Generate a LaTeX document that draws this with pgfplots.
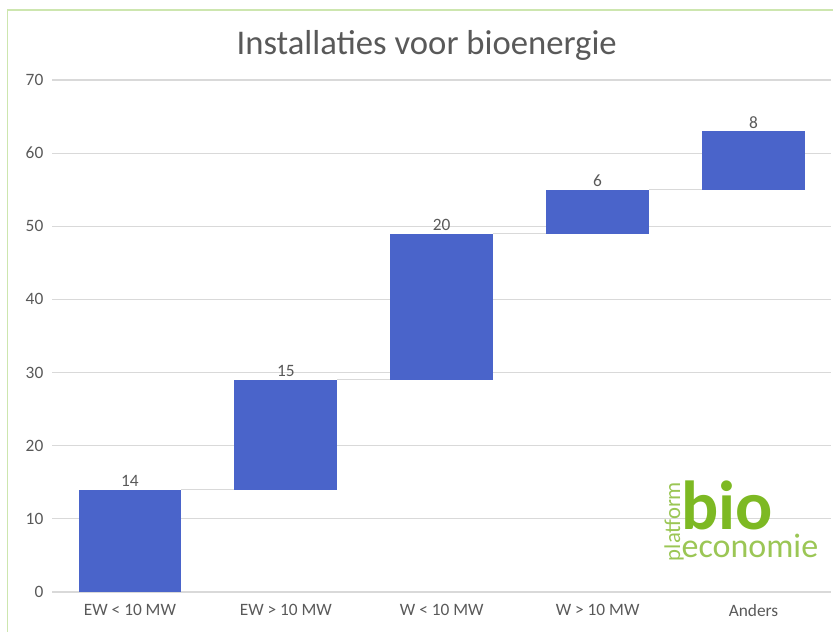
\documentclass[border=0pt]{standalone}
\usepackage{pgfplots}
\pgfplotsset{compat=1.18}
\usepackage{fontspec}
\setmainfont{Carlito}
\definecolor{barblue}{RGB}{74,100,202}
\definecolor{gridgray}{RGB}{217,217,217}
\definecolor{txtgray}{RGB}{89,89,89}
\definecolor{framegreen}{RGB}{205,230,175}
\definecolor{logogreen}{RGB}{125,185,35}
\definecolor{logolight}{RGB}{155,198,85}
\begin{document}
\begin{tikzpicture}
\path[use as bounding box] (0,0) rectangle (624.75pt,474pt);
\draw[framegreen,line width=1.2pt] (5.5pt,0) -- (5.5pt,466.5pt) -- (624.75pt,466.5pt);
\node[txtgray,font=\fontsize{26}{30}\selectfont] at (320pt,440pt) {Installaties voor bioenergie};
\begin{axis}[
  at={(39pt,30pt)}, anchor=south west,
  scale only axis, width=584.6pt, height=384pt,
  xmin=-0.5, xmax=4.5, ymin=0, ymax=70,
  ytick={0,10,...,70},
  xtick={0,1,2,3,4},
  xticklabels={EW < 10 MW, EW > 10 MW, W < 10 MW, W > 10 MW, Anders},
  axis line style={draw=none},
  major tick length=0pt,
  ymajorgrids, grid style={gridgray, line width=0.8pt},
  tick label style={txtgray, font=\fontsize{13}{15}\selectfont},
  /pgf/number format/assume math mode=true,
  yticklabel style={xshift=-3pt},
  xticklabel style={yshift=-6pt},
  clip=false,
]
% bars (base, top)
\addplot[fill=barblue, draw=none] coordinates {(-0.33,0) (0.33,0) (0.33,14) (-0.33,14)} -- cycle;
\addplot[fill=barblue, draw=none] coordinates {(0.67,14) (1.33,14) (1.33,29) (0.67,29)} -- cycle;
\addplot[fill=barblue, draw=none] coordinates {(1.67,29) (2.33,29) (2.33,49) (1.67,49)} -- cycle;
\addplot[fill=barblue, draw=none] coordinates {(2.67,49) (3.33,49) (3.33,55) (2.67,55)} -- cycle;
\addplot[fill=barblue, draw=none] coordinates {(3.67,55) (4.33,55) (4.33,63) (3.67,63)} -- cycle;
% connectors
\addplot[gridgray, line width=0.8pt] coordinates {(0.33,14) (0.67,14)};
\addplot[gridgray, line width=0.8pt] coordinates {(1.33,29) (1.67,29)};
\addplot[gridgray, line width=0.8pt] coordinates {(2.33,49) (2.67,49)};
\addplot[gridgray, line width=0.8pt] coordinates {(3.33,55) (3.67,55)};
% value labels
\addplot[only marks, mark=*, mark size=0pt, mark options={draw=none,fill=none},
  nodes near coords, point meta=explicit symbolic,
  nodes near coords style={anchor=south, inner sep=2pt, txtgray, font=\fontsize{13}{15}\selectfont}]
  coordinates {(0,14)[14] (1,29)[15] (2,49)[20] (3,55)[6] (4,63)[8]};
\end{axis}
% logo
\node[anchor=base west, inner sep=0pt, text=logogreen, font=\fontsize{52}{52}\selectfont\bfseries] at (511pt,77pt) {bio};
\node[anchor=base west, inner sep=0pt, text=logolight, font=\fontsize{25.5}{26}\selectfont] at (511pt,56pt) {economie};
\node[anchor=base west, inner sep=0pt, rotate=90, text=logolight, font=\fontsize{17}{17}\selectfont] at (510pt,53pt) {platform};
\end{tikzpicture}
\end{document}
